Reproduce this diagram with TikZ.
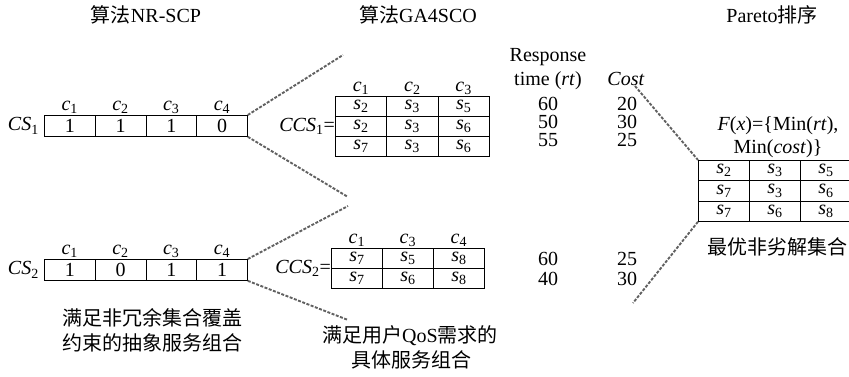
\documentclass[tikz,border=0pt]{standalone}
\usepackage{fontspec}
\setmainfont{Liberation Serif}
\newfontfamily\cjk{Noto Sans CJK SC}
\newcommand{\vsub}[2]{\textit{#1}\textsubscript{#2}}
\tikzset{
  txt/.style={font=\fontsize{20}{25}\selectfont, inner sep=0pt},
  cell/.style={txt, draw, line width=0.8pt, anchor=north west},
  clabel/.style={txt, anchor=base, yshift=4.5pt},
  num/.style={txt, anchor=base, text height=13pt, text depth=0pt},
  link/.style={line width=1.9pt, color=black!62, dash pattern=on 3pt off 1.5pt}
}
\begin{document}
\begin{tikzpicture}[x=1pt, y=-1pt]
  \useasboundingbox (0,0) rectangle (849,376);

  % titles
  \node [txt, anchor=base] (t1) at (146, 22) {{\cjk 算法}NR-SCP};
  \node [txt, anchor=base] (t2) at (418, 22) {{\cjk 算法}GA4SCO};
  \node [txt, anchor=base] (t3) at (772, 22) {Pareto{\cjk 排序}};

  % abstract service compositions
  \foreach \v [count=\i] in {1,1,1,0} {
    \node [cell, minimum width=50.75pt, minimum height=21pt] (cs1-\i)
      at ({44+(\i-1)*50.75}, 115) {\v};
    \node [clabel] (cs1-c\i) at (cs1-\i.north) {\vsub{c}{\i}};
  }
  \foreach \v [count=\i] in {1,0,1,1} {
    \node [cell, minimum width=50.75pt, minimum height=21pt] (cs2-\i)
      at ({44+(\i-1)*50.75}, 259) {\v};
    \node [clabel] (cs2-c\i) at (cs2-\i.north) {\vsub{c}{\i}};
  }
  \node [txt, anchor=east, xshift=-5pt] (cs1) at (cs1-1.west) {\vsub{CS}{1}};
  \node [txt, anchor=east, xshift=-5pt] (cs2) at (cs2-1.west) {\vsub{CS}{2}};

  % concrete service compositions
  \foreach \a/\b/\c [count=\r] in {2/3/5, 2/3/6, 7/3/6} {
    \foreach \s [count=\k] in {\a,\b,\c} {
      \node [cell, minimum width=51.3pt, minimum height=20pt] (ccs1-\r-\k)
        at ({335+(\k-1)*51.3}, {96+(\r-1)*20}) {\vsub{s}{\s}};
    }
  }
  \foreach \n [count=\k] in {1,2,3}
    \node [clabel] (ccs1-c\k) at (ccs1-1-\k.north) {\vsub{c}{\n}};
  \node [txt, anchor=east] (ccs1) at (ccs1-2-1.west) {\vsub{CCS}{1}=};

  \foreach \a/\b/\c [count=\r] in {7/5/8, 7/6/8} {
    \foreach \s [count=\k] in {\a,\b,\c} {
      \node [cell, minimum width=51pt, minimum height=20pt] (ccs2-\r-\k)
        at ({331+(\k-1)*51}, {248+(\r-1)*20}) {\vsub{s}{\s}};
    }
  }
  \foreach \n [count=\k] in {1,3,4}
    \node [clabel] (ccs2-c\k) at (ccs2-1-\k.north) {\vsub{c}{\n}};
  \node [txt, anchor=east] (ccs2) at (ccs2-1-1.south west) {\vsub{CCS}{2}=};

  % QoS values
  \node [txt, anchor=base] (resp) at (548, 61) {Response};
  \node [txt, anchor=base] (time) at (548, 85) {time (\textit{rt})};
  \node [txt, anchor=base] (cost) at (626, 85) {\textit{Cost}};
  \foreach \t/\c/\y [count=\r] in {60/20/110, 50/30/128, 55/25/146, 60/25/265, 40/30/285} {
    \node [num] (rt-\r) at (548, \y) {\t};
    \node [num] (co-\r) at (627, \y) {\c};
  }

  % Pareto front
  \node [txt, anchor=base] (fx1) at (778, 130) {\textit{F}(\textit{x})=\{Min(\textit{rt}),};
  \node [txt, anchor=base] (fx2) at (778, 153) {Min(\textit{cost})\}};
  \foreach \a/\b/\c [count=\r] in {2/3/5, 7/3/6, 7/6/8} {
    \foreach \s [count=\k] in {\a,\b,\c} {
      \node [cell, minimum width=51pt, minimum height=20.3pt] (par-\r-\k)
        at ({698+(\k-1)*51}, {160+(\r-1)*20.3}) {\vsub{s}{\s}};
    }
  }
  \node [txt, anchor=base] (best) at (777, 254.5) {\cjk 最优非劣解集合};

  % captions
  \node [txt, anchor=base] (cap1a) at (152, 325.5) {\cjk 满足非冗余集合覆盖};
  \node [txt, anchor=base] (cap1b) at (152, 350.5) {\cjk 约束的抽象服务组合};
  \node [txt, anchor=base] (cap2a) at (410, 342.5) {{\cjk 满足用户}QoS{\cjk 需求的}};
  \node [txt, anchor=base] (cap2b) at (411, 367.5) {\cjk 具体服务组合};

  % dashed links
  \coordinate (e1) at (343, 55);
  \coordinate (e2) at (348, 197);
  \coordinate (e3) at (348, 206);
  \coordinate (e4) at (348, 320);
  \coordinate (e5) at (635, 86);
  \coordinate (e6) at (633, 303);
  \draw [link] (cs1-4.north east) -- (e1);
  \draw [link] (cs1-4.south east) -- (e2);
  \draw [link] (cs2-4.north east) -- (e3);
  \draw [link] (cs2-4.south east) -- (e4);
  \draw [link] (e5) -- (par-1-1.north west);
  \draw [link] (par-3-1.south west) -- (e6);
\end{tikzpicture}
\end{document}
